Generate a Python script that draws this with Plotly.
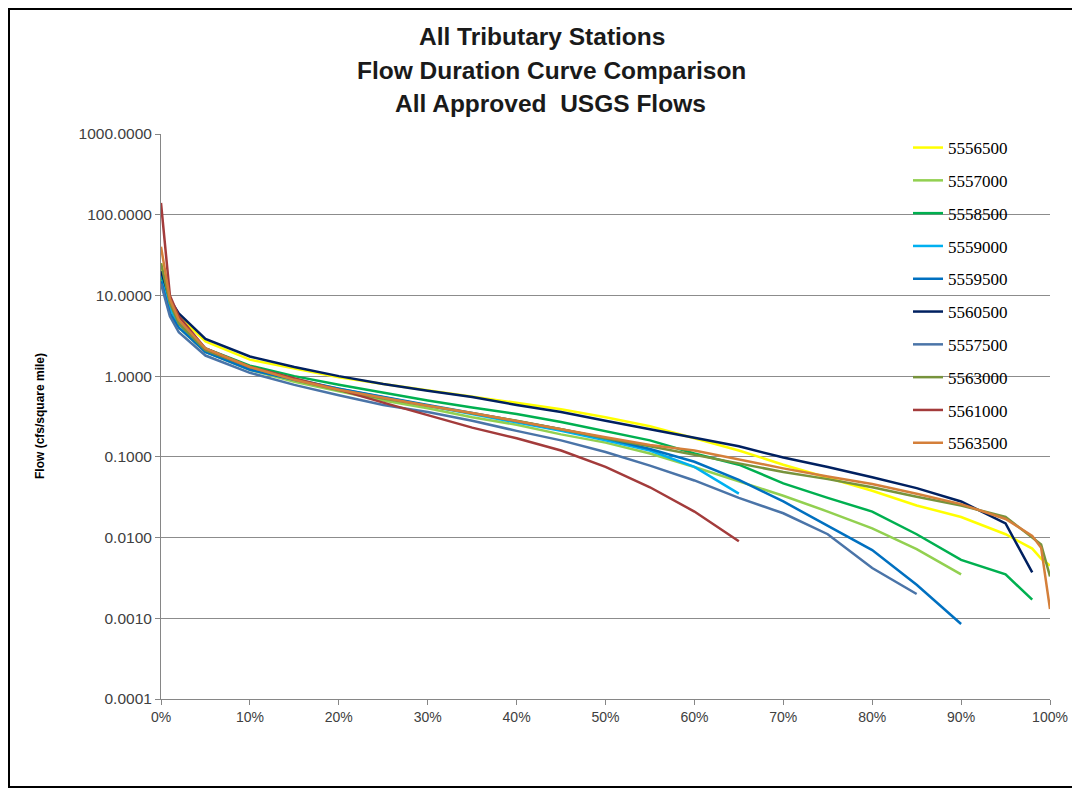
import plotly.graph_objects as go

# Percent of time flow equalled or exceeded
percent = [0, 1, 2, 5, 10, 15, 20, 25, 30, 35, 40, 45, 50, 55, 60, 65, 70, 75, 80, 85, 90, 95, 98, 99, 100]

s5556500 = [25, 8.5, 5.5, 2.7, 1.6, 1.25, 0.97, 0.80, 0.67, 0.56, 0.47, 0.39, 0.31, 0.24, 0.17, 0.12, 0.08, 0.055, 0.038, 0.025, 0.018, 0.011, 0.0073, 0.0055, 0.0045]
s5557000 = [15, 6, 4, 2.0, 1.2, 0.85, 0.65, 0.50, 0.40, 0.31, 0.25, 0.19, 0.15, 0.11, 0.075, 0.05, 0.033, 0.021, 0.013, 0.0072, 0.0035, None, None, None, None]
s5558500 = [18, 7, 4.5, 2.2, 1.35, 1.0, 0.78, 0.62, 0.50, 0.41, 0.34, 0.27, 0.21, 0.16, 0.11, 0.08, 0.047, 0.031, 0.021, 0.011, 0.0053, 0.0035, 0.0017, None, None]
s5559000 = [20, 7, 4.5, 2.0, 1.25, 0.92, 0.70, 0.55, 0.43, 0.34, 0.27, 0.21, 0.16, 0.12, 0.075, 0.035, None, None, None, None, None, None, None, None, None]
s5559500 = [15, 6, 4, 2.0, 1.2, 0.90, 0.70, 0.55, 0.44, 0.35, 0.28, 0.22, 0.17, 0.125, 0.087, 0.052, 0.028, 0.014, 0.007, 0.0026, 0.00085, None, None, None, None]
s5560500 = [20, 9, 6.0, 2.9, 1.75, 1.3, 1.0, 0.80, 0.66, 0.55, 0.44, 0.36, 0.28, 0.22, 0.175, 0.135, 0.098, 0.075, 0.056, 0.041, 0.028, 0.015, 0.0037, None, None]
s5557500 = [14, 5.5, 3.5, 1.8, 1.1, 0.78, 0.58, 0.44, 0.36, 0.28, 0.21, 0.16, 0.115, 0.078, 0.051, 0.031, 0.02, 0.011, 0.0042, 0.002, None, None, None, None, None]
s5563000 = [25, 8, 4.5, 2.1, 1.3, 0.90, 0.67, 0.53, 0.43, 0.35, 0.28, 0.22, 0.17, 0.135, 0.105, 0.083, 0.065, 0.053, 0.042, 0.032, 0.025, 0.018, 0.010, 0.0082, 0.0033]
s5561000 = [140, 10, 5.5, 2.2, 1.3, 0.95, 0.68, 0.47, 0.33, 0.23, 0.17, 0.12, 0.075, 0.042, 0.021, 0.009, None, None, None, None, None, None, None, None, None]
s5563500 = [40, 9, 5, 2.2, 1.3, 0.90, 0.68, 0.54, 0.43, 0.35, 0.28, 0.22, 0.175, 0.14, 0.12, 0.092, 0.072, 0.057, 0.046, 0.035, 0.026, 0.017, 0.0105, 0.0075, 0.0013]

station_names = ["5556500", "5557000", "5558500", "5559000", "5559500",
                 "5560500", "5557500", "5563000", "5561000", "5563500"]
station_values = [s5556500, s5557000, s5558500, s5559000, s5559500,
                  s5560500, s5557500, s5563000, s5561000, s5563500]
station_colors = ["#FFFF00", "#92D050", "#00B050", "#00B0F0", "#0070C0",
                  "#002060", "#4A74A8", "#77933C", "#A33B3B", "#D47F3A"]

y_ticks = [0.0001, 0.001, 0.01, 0.1, 1, 10, 100, 1000]
x_ticks = [0, 10, 20, 30, 40, 50, 60, 70, 80, 90, 100]
x_labels = ["0%", "10%", "20%", "30%", "40%", "50%", "60%", "70%", "80%", "90%", "100%"]

fig = go.Figure()
for i, (name, vals, col) in enumerate(zip(station_names, station_values, station_colors)):
    fig.add_trace(go.Scatter(
        x=percent, y=vals, name=name, mode="lines",
        line=dict(color=col, width=2.5),
        legendgroup=f"g{i}",
    ))

# page has an 8px body margin; work in reference pixel coordinates
OFF = 8
W, H = 1080 - OFF, 789 - OFF
PL, PR, PT, PB = 161, 1050, 134, 699   # plot area in reference pixels
L, T = PL - OFF, PT - OFF
R, B = W - (PR - OFF), H - (PB - OFF)
pw, ph = W - L - R, H - T - B

def px_x(px):
    return (px - OFF - L) / pw

def px_y(py):
    return (H - B - (py - OFF)) / ph

title_lines = ["All Tributary Stations", "Flow Duration Curve Comparison", "All Approved  USGS Flows"]
title_y = [36, 71, 104]
title_x = [542, 551, 550]
annotations = []
for txt, xx, yy in zip(title_lines, title_x, title_y):
    annotations.append(dict(
        text=f"<b>{txt}</b>", x=px_x(xx), y=px_y(yy), xref="paper", yref="paper",
        showarrow=False, xanchor="center", yanchor="middle",
        font=dict(family="Liberation Sans, Arial", size=24.5, color="#1a1a1a"),
    ))
annotations.append(dict(
    text="<b>Flow (cfs/square mile)</b>", x=px_x(40), y=px_y(416), xref="paper", yref="paper",
    showarrow=False, textangle=-90, xanchor="center", yanchor="middle",
    font=dict(family="Liberation Sans, Arial", size=12, color="#000000"),
))

fig.update_layout(
    width=W, height=H,
    margin=dict(l=L, r=R, t=T, b=B),
    paper_bgcolor="white", plot_bgcolor="white",
    annotations=annotations,
    showlegend=True,
    legend=dict(
        x=px_x(908), y=px_y(130), xanchor="left", yanchor="top",
        bgcolor="rgba(0,0,0,0)", borderwidth=0,
        font=dict(family="Liberation Serif, DejaVu Serif", size=17, color="#000000"),
        tracegroupgap=7.7, itemwidth=30,
    ),
    shapes=[dict(type="rect", xref="paper", yref="paper",
                 x0=px_x(9), x1=px_x(1100), y0=px_y(787), y1=px_y(9),
                 line=dict(color="#000000", width=2), fillcolor="rgba(0,0,0,0)", layer="below")],
)

fig.update_xaxes(
    range=[0, 100], tickvals=x_ticks, ticktext=x_labels,
    showgrid=False, showline=True, linecolor="#868686", linewidth=1,
    ticks="outside", ticklen=5, tickcolor="#868686",
    tickfont=dict(family="Liberation Sans, Arial", size=14, color="#404040"),
    zeroline=False,
)
fig.update_yaxes(
    type="log", range=[-4, 3], tickvals=y_ticks, tickformat=".4f",
    showgrid=True, gridcolor="#8C8C8C", gridwidth=1,
    showline=True, linecolor="#868686", linewidth=1,
    ticks="outside", ticklen=5, tickcolor="#868686",
    tickfont=dict(family="Liberation Sans, Arial", size=15.5, color="#404040"),
    zeroline=False,
)

fig.write_html("out.html")
